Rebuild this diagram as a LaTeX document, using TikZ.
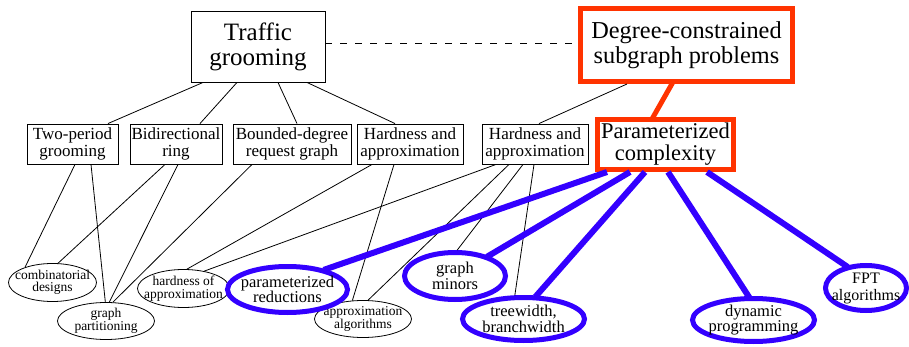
\documentclass[tikz,border=0pt]{standalone}
\usepackage{fontspec}
\setmainfont{Liberation Serif}
\usetikzlibrary{shapes.geometric}
\definecolor{hilite}{RGB}{255,51,0}
\definecolor{fptblue}{RGB}{51,0,255}

\begin{document}
\begin{tikzpicture}[x=1pt,y=-1pt,
  bigbox/.style={draw,line width=0.9pt,align=center,inner sep=2pt,
    font=\fontsize{25}{25}\selectfont},
  hotbox/.style={draw=hilite,line width=5pt,align=center,inner sep=2pt},
  subbox/.style={draw,line width=0.9pt,align=center,inner sep=1pt,
    minimum height=40,font=\fontsize{17}{17}\selectfont},
  topic/.style={ellipse,draw,line width=0.8pt,inner sep=-20pt,align=center,
    font=\fontsize{13.5}{12.5}\selectfont},
  pctopic/.style={ellipse,draw=fptblue,fill=white,line width=5pt,
    inner sep=-20pt,align=center,font=\fontsize{16.5}{15.7}\selectfont},
  link/.style={line width=0.8pt},
  hotlink/.style={draw=hilite,line width=5pt},
  pclink/.style={draw=fptblue,line width=6pt,shorten >=-2pt}]
  \useasboundingbox (0,0) rectangle (909,347);
  % top row
  \node[bigbox,minimum width=134,minimum height=71] (tg) at (258,46.5) {Traffic\\grooming};
  \node[hotbox,minimum width=212,minimum height=73,font=\fontsize{24.3}{25}\selectfont]
    (dc) at (686.5,45) {Degree-constrained\\subgraph problems};
  \node[hotbox,minimum width=136,minimum height=50,font=\fontsize{22.5}{22}\selectfont]
    (pc) at (665.5,144.5) {Parameterized\\complexity};
  % second row
  \node[subbox,minimum width=91] (tp) at (72.5,144) {Two-period\\grooming};
  \node[subbox,minimum width=92] (br) at (176,144) {Bidirectional\\ring};
  \node[subbox,minimum width=118] (bd) at (292,144) {Bounded-degree\\request graph};
  \node[subbox,minimum width=106] (ha1) at (410,144) {Hardness and\\approximation};
  \node[subbox,minimum width=106] (ha2) at (535,144) {Hardness and\\approximation};
  % leaves
  \node[topic,minimum width=88,minimum height=38] (cd) at (52.5,282.5) {combinatorial\\designs};
  \node[topic,minimum width=97,minimum height=37] (gp) at (106,321) {graph\\partitioning};
  \node[topic,minimum width=92,minimum height=38] (hoa) at (183.5,288.5) {hardness of\\approximation};
  \node[topic,minimum width=97,minimum height=37] (aa) at (363,319) {approximation\\algorithms};
  \node[pctopic,minimum width=120,minimum height=46] (pr) at (287.5,289.5) {parameterized\\reductions};
  \node[pctopic,minimum width=101,minimum height=47] (gm) at (455,276) {graph\\minors};
  \node[pctopic,minimum width=122,minimum height=43] (tw) at (523.5,319) {treewidth,\\branchwidth};
  \node[pctopic,minimum width=122,minimum height=43] (dp) at (753.5,320) {dynamic\\programming};
  \node[pctopic,minimum width=81,minimum height=45,font=\fontsize{16}{17}\selectfont]
    (fa) at (866,288) {FPT\\algorithms};
  % links between the two areas
  \draw[link,dash pattern=on 7pt off 8pt] ([yshift=3.5pt]tg.east) -- ([yshift=2pt]dc.west);
  \draw[hotlink] ([xshift=-13.5pt,yshift=2pt]dc.south) -- ([xshift=-13.5pt,yshift=-2pt]pc.north);
  \draw[link] ([xshift=-59.5pt]dc.south) -- ([xshift=4pt]ha2.north);
  \draw[link] ([xshift=-55pt]tg.south) -- ([xshift=35.5pt]tp.north);
  \draw[link] ([xshift=-21pt]tg.south) -- ([xshift=24pt]br.north);
  \draw[link] ([xshift=20pt]tg.south) -- ([xshift=5pt]bd.north);
  \draw[link] ([xshift=49pt]tg.south) -- ([xshift=-15pt]ha1.north);
  % second row to leaves
  \draw[link] ([xshift=2.5pt]tp.south) -- (cd.151);
  \draw[link] ([xshift=18.5pt]tp.south) -- (gp.92);
  \draw[link] ([xshift=-11pt]br.south) -- (cd.74);
  \draw[link] ([xshift=2pt]br.south) -- (gp.80);
  \draw[link] ([xshift=-40pt]bd.south) -- (gp.70);
  \draw[link] ([xshift=-38pt]ha1.south) -- (hoa.80);
  \draw[link] ([xshift=-16pt]ha1.south) -- (aa.120);
  \draw[link] ([xshift=-39pt]ha2.south) -- (hoa.40);
  \draw[link] ([xshift=-26pt]ha2.south) -- (aa.75);
  \draw[link] ([xshift=-12pt]ha2.south) -- (gm.85);
  \draw[link] ([xshift=-1pt]ha2.south) -- (tw.110);
  % parameterized complexity
  \draw[pclink] ([xshift=-58.5pt]pc.south) -- (pr.28);
  \draw[pclink] ([xshift=-35.5pt]pc.south) -- (gm.31);
  \draw[pclink] ([xshift=-20.5pt]pc.south) -- (tw.61);
  \draw[pclink] ([xshift=2.5pt]pc.south) -- (dp.102);
  \draw[pclink] ([xshift=41.5pt]pc.south) -- (fa.132);
\end{tikzpicture}
\end{document}
